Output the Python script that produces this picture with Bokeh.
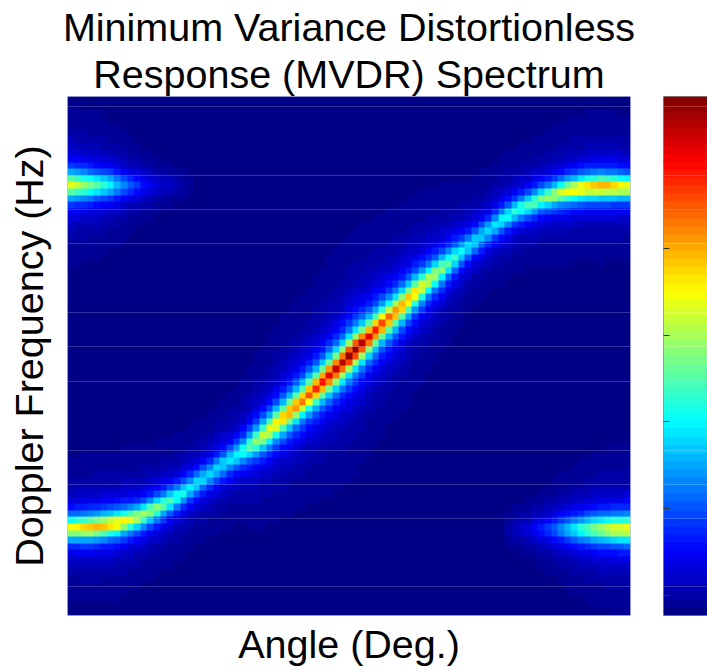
import numpy as np
from bokeh.embed import file_html
from bokeh.resources import INLINE
from bokeh.layouts import row
from bokeh.models import FixedTicker, LinearAxis, LinearColorMapper, Range1d, Title
from bokeh.plotting import figure

TITLE_1 = "Minimum Variance Distortionless"
TITLE_2 = "Response (MVDR) Spectrum"
X_LABEL = "Angle (Deg.)"
Y_LABEL = "Doppler Frequency (Hz)"

# Values: main clutter ridge (angle in deg, normalised frequency, colour level)
ridge_angle = [-90, -81.7, -74, -66.7, -60.3, -54.9, -49.8, -44.4, -39, -34.6, -30.8, -28.3,
               -19.6, -15.5, -11.3, -6.9, -2.7, 1.1, 5.3, 9.1, 13.3, 17.4, 20.6, 25.1,
               30.2, 36.9, 43.3, 48.7, 54.1, 61.8, 69.1, 75.8, 81.3, 90]
ridge_freq = [-0.665, -0.661, -0.646, -0.619, -0.581, -0.543, -0.501, -0.455, -0.408, -0.374, -0.339, -0.316,
              -0.222, -0.179, -0.133, -0.083, -0.033, 0.013, 0.060, 0.106, 0.152, 0.198, 0.237, 0.287,
              0.341, 0.410, 0.472, 0.522, 0.565, 0.607, 0.634, 0.649, 0.653, 0.649]
ridge_level = [0.62, 0.70, 0.67, 0.56, 0.50, 0.42, 0.36, 0.33, 0.35, 0.38, 0.50, 0.56,
               0.72, 0.76, 0.82, 0.90, 0.94, 1.00, 0.92, 0.84, 0.77, 0.72, 0.68, 0.58,
               0.50, 0.36, 0.33, 0.38, 0.42, 0.50, 0.62, 0.68, 0.72, 0.62]
width_angle = [-90, -66, -55, -44, -28, 1, 30, 43, 54, 62, 90]
ridge_width = [0.042, 0.043, 0.046, 0.052, 0.056, 0.058, 0.056, 0.052, 0.046, 0.043, 0.042]

# Aliased blobs at the picture's edges
blob_top_angle = [-90, -81.7, -76.2, -70.8, -65.7, -60.3, -54.9, -49]
blob_top_level = [0.62, 0.48, 0.37, 0.22, 0.14, 0.08, 0.05, 0.02]
blob_top_freq = 0.658
blob_bot_angle = [50, 58, 64.4, 69, 74, 80, 84, 90]
blob_bot_level = [0.04, 0.10, 0.20, 0.30, 0.42, 0.54, 0.60, 0.63]
blob_bot_freq = -0.667
blob_width = 0.05

# Faint horizontal lines, normalised frequency
line_freq = [0.962, 0.696, 0.565, 0.434, 0.168, 0.037, -0.098, -0.364, -0.495, -0.626, -0.888]
# Colour-bar ticks, colour level
bar_ticks = [0.039, 0.207, 0.374, 0.540, 0.708, 0.874]

NX, NY = 85, 79


def jet(n):
    out = []
    for i in range(n):
        v = (i + 0.5) / n
        r = np.clip(min(4 * v - 1.5, -4 * v + 4.5), 0, 1)
        g = np.clip(min(4 * v - 0.5, -4 * v + 3.5), 0, 1)
        b = np.clip(min(4 * v + 0.5, -4 * v + 2.5), 0, 1)
        out.append("#%02x%02x%02x" % (int(r * 255), int(g * 255), int(b * 255)))
    return out


PALETTE = jet(64)
mapper = LinearColorMapper(palette=PALETTE, low=0, high=1)

xs = np.linspace(-90, 90, NX, endpoint=False) + 90 / NX
ys = np.linspace(-1, 1, NY, endpoint=False) + 1 / NY
X, Y = np.meshgrid(xs, ys)


def lobe(centre, level, width):
    d = Y - centre
    return level * (0.6 / (1 + (d / (0.75 * width)) ** 2) + 0.4 / (1 + (d / (1.4 * width)) ** 2))


field = lobe(np.interp(X, ridge_angle, ridge_freq),
             np.interp(X, ridge_angle, ridge_level),
             np.interp(X, width_angle, ridge_width))
field = np.maximum(field, lobe(blob_top_freq, np.interp(X, blob_top_angle, blob_top_level, right=0), blob_width))
field = np.maximum(field, lobe(blob_bot_freq, np.interp(X, blob_bot_angle, blob_bot_level, left=0), blob_width))

FONT = "Liberation Sans"
SIZE = "39.5px"

p = figure(width=640, height=669, output_backend="svg", toolbar_location=None,
           x_range=Range1d(-90, 90), y_range=Range1d(-1, 1),
           min_border_left=67, min_border_right=10, min_border_top=96, min_border_bottom=54,
           background_fill_color="white", outline_line_color="#c6c6e6", outline_line_width=1)
p.image(image=[field], x=-90, y=-1, dw=180, dh=2, color_mapper=mapper)
p.add_layout(Title(text=TITLE_2, align="center", text_font=FONT, text_font_size=SIZE,
                   text_font_style="normal", text_color="black", offset=5, standoff=2), "above")
p.add_layout(Title(text=TITLE_1, align="center", text_font=FONT, text_font_size=SIZE,
                   text_font_style="normal", text_color="black", offset=5, standoff=0), "above")
p.xaxis.axis_label = X_LABEL
p.yaxis.axis_label = Y_LABEL
for ax in (p.xaxis[0], p.yaxis[0]):
    ax.ticker = FixedTicker(ticks=[])
    ax.axis_line_color = None
    ax.major_tick_line_color = None
    ax.minor_tick_line_color = None
    ax.axis_label_text_font = FONT
    ax.axis_label_text_font_size = SIZE
    ax.axis_label_text_font_style = "normal"
    ax.axis_label_text_color = "black"
p.xaxis.axis_label_standoff = 6
p.yaxis.axis_label_standoff = 17
p.xgrid.visible = False
p.ygrid.ticker = FixedTicker(ticks=line_freq)
p.ygrid.grid_line_color = "white"
p.ygrid.grid_line_alpha = 0.2
p.ygrid.level = "overlay"

bar = figure(width=67, height=669, output_backend="svg", toolbar_location=None,
             x_range=Range1d(0, 1), y_range=Range1d(0, 1),
             min_border_left=23, min_border_right=0, min_border_top=96, min_border_bottom=54,
             outline_line_color="#8c8c8c", outline_line_width=1)
levels = (np.arange(64) + 0.5) / 64
bar.image(image=[levels.reshape(-1, 1)], x=0, y=0, dw=1, dh=1, color_mapper=mapper)
bar.xaxis.visible = False
bar.xgrid.visible = False
bar.yaxis.visible = False
tick_axis = LinearAxis(ticker=FixedTicker(ticks=bar_ticks), axis_line_color=None,
                       major_tick_in=6, major_tick_out=0, major_tick_line_color="#333333",
                       major_tick_line_width=1, minor_tick_line_color=None,
                       major_label_text_color=None, major_label_text_font_size="1px",
                       major_label_standoff=0)
bar.add_layout(tick_axis, "left")
bar.ygrid.ticker = FixedTicker(ticks=[(f + 1) / 2 for f in line_freq])
bar.ygrid.grid_line_color = "white"
bar.ygrid.grid_line_alpha = 0.2
bar.ygrid.level = "overlay"

layout = row(p, bar)
open("out.html", "w").write(file_html(layout, INLINE))
